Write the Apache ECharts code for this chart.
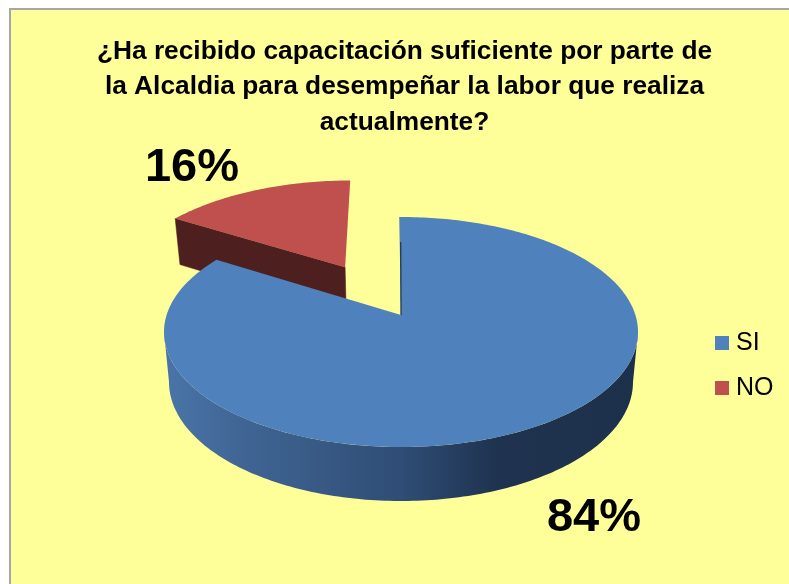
<!DOCTYPE html>
<html>
<head>
<meta charset="utf-8">
<style>html,body{margin:0;padding:0;background:#fff}#c{width:789px;height:584px}</style>
<script src="https://cdn.jsdelivr.net/npm/echarts@6/dist/echarts.min.js"></script>
</head>
<body>
<div id="c"></div>
<script>
var categories = ['SI', 'NO'];
var values = [84, 16];
var sliceColors = ['#4f81bd', '#c0504d'];
var titleLines = [
  '¿Ha recibido capacitación suficiente por parte de',
  'la Alcaldia para desempeñar la labor que realiza',
  'actualmente?'
];

// Perspective pie geometry
var topPlane = {cx: 401, cy: 332, rx: 237, ry: 115};
var basePlane = {cx: 401, cy: 382, rx: 232, ry: 119};
var tilt = 0.148;
var startDeg = -0.5;
var explode = [0, 0.52];
var labelAt = [[594, 518], [192, 168]];
var total = values.reduce(function (a, b) { return a + b; }, 0);

function project(x, y, plane) {
  var d = 1 + tilt * y;
  return [
    plane.cx + plane.rx * x * Math.sqrt(1 - tilt * tilt) / d,
    plane.cy - plane.ry * (y + tilt) / d
  ];
}
function rimPoint(deg, off, plane) {
  var r = deg * Math.PI / 180;
  return project(Math.sin(r) + off[0], Math.cos(r) + off[1], plane);
}
function sliceRange(i) {
  var before = values.slice(0, i).reduce(function (a, b) { return a + b; }, 0);
  return [startDeg + before / total * 360, startDeg + (before + values[i]) / total * 360];
}
function arc(a, b, off, plane) {
  var n = Math.max(2, Math.ceil(Math.abs(b - a)));
  var pts = [];
  for (var k = 0; k <= n; k++) pts.push(rimPoint(a + (b - a) * k / n, off, plane));
  return pts;
}

function renderSlice(params, api) {
  var i = params.seriesIndex;
  var v = api.value(0);
  var range = sliceRange(i);
  var mid = (range[0] + range[1]) / 2 * Math.PI / 180;
  var off = [Math.sin(mid) * explode[i], Math.cos(mid) * explode[i]];
  var apexTop = project(off[0], off[1], topPlane);
  var apexBase = project(off[0], off[1], basePlane);
  var children = [];

  if (i === 1) {
    var a = rimPoint(range[0], off, topPlane);
    var b = rimPoint(range[0], off, basePlane);
    children.push({type: 'polygon', shape: {points: [apexTop, a, b, apexBase]},
      style: {fill: '#4d1f1f', stroke: '#4d1f1f', lineWidth: 0.5}});
  } else {
    // The wall runs between the left and right silhouette points of the rim.
    var edge = Math.acos(-tilt) * 180 / Math.PI;
    var wallTop = arc(edge, 360 - edge, off, topPlane);
    var wallBase = arc(360 - edge, edge, off, basePlane);
    children.push({type: 'polygon', shape: {points: wallTop.concat(wallBase)},
      style: {fill: new echarts.graphic.LinearGradient(0, 0, 1, 0, [
        {offset: 0, color: '#4a74a8'},
        {offset: 0.18, color: '#3f6493'},
        {offset: 0.32, color: '#385a85'},
        {offset: 0.5, color: '#2f4d75'},
        {offset: 0.7, color: '#1f3350'},
        {offset: 1, color: '#1d304b'}
      ])}});
  }

  var face = [apexTop].concat(arc(range[0], range[1], off, topPlane));
  children.push({type: 'polygon', shape: {points: face},
    style: {fill: api.visual('color')}});

  if (i === 0) {
    var rim = rimPoint(range[0], off, topPlane);
    children.push({type: 'line',
      shape: {x1: rim[0] + 1.5, y1: rim[1] + 25, x2: apexTop[0], y2: apexTop[1]},
      style: {stroke: '#1f3350', lineWidth: 1.2}});
  }

  children.push({type: 'text', x: labelAt[i][0], y: labelAt[i][1],
    style: {text: Math.round(v / total * 100) + '%', fill: '#000',
      font: 'bold 47px "Liberation Sans", Arial, sans-serif',
      textAlign: 'center', textVerticalAlign: 'middle'}});
  return {type: 'group', children: children};
}

var chart = echarts.init(document.getElementById('c'), null, {renderer: 'canvas'});
chart.setOption({
  animation: false,
  backgroundColor: '#ffffff',
  color: sliceColors,
  graphic: [{type: 'rect', z: -10, shape: {x: 10, y: 9, width: 800, height: 600},
    style: {fill: '#ffff99', stroke: '#a6a6a6', lineWidth: 2}}],
  title: {
    text: titleLines.join('\n'),
    left: 404.5, top: 33.5, padding: 0, textAlign: 'center',
    textStyle: {fontFamily: '"Liberation Sans", Arial, sans-serif', fontWeight: 'bold',
      fontSize: 26.3, lineHeight: 35.5, color: '#000'}
  },
  legend: {
    data: categories, orient: 'vertical', left: 710, top: 324,
    icon: 'rect', itemWidth: 14, itemHeight: 14, itemGap: 17,
    textStyle: {fontFamily: '"Liberation Sans", Arial, sans-serif', fontSize: 25,
      color: '#000', lineHeight: 28, padding: [0, 0, 0, 2]}
  },
  series: categories.map(function (name, i) {
    return {
      type: 'custom', name: name, coordinateSystem: 'none', z: i === 0 ? 3 : 2,
      renderItem: renderSlice, data: [[values[i]]], silent: true
    };
  })
});
</script>
</body>
</html>
